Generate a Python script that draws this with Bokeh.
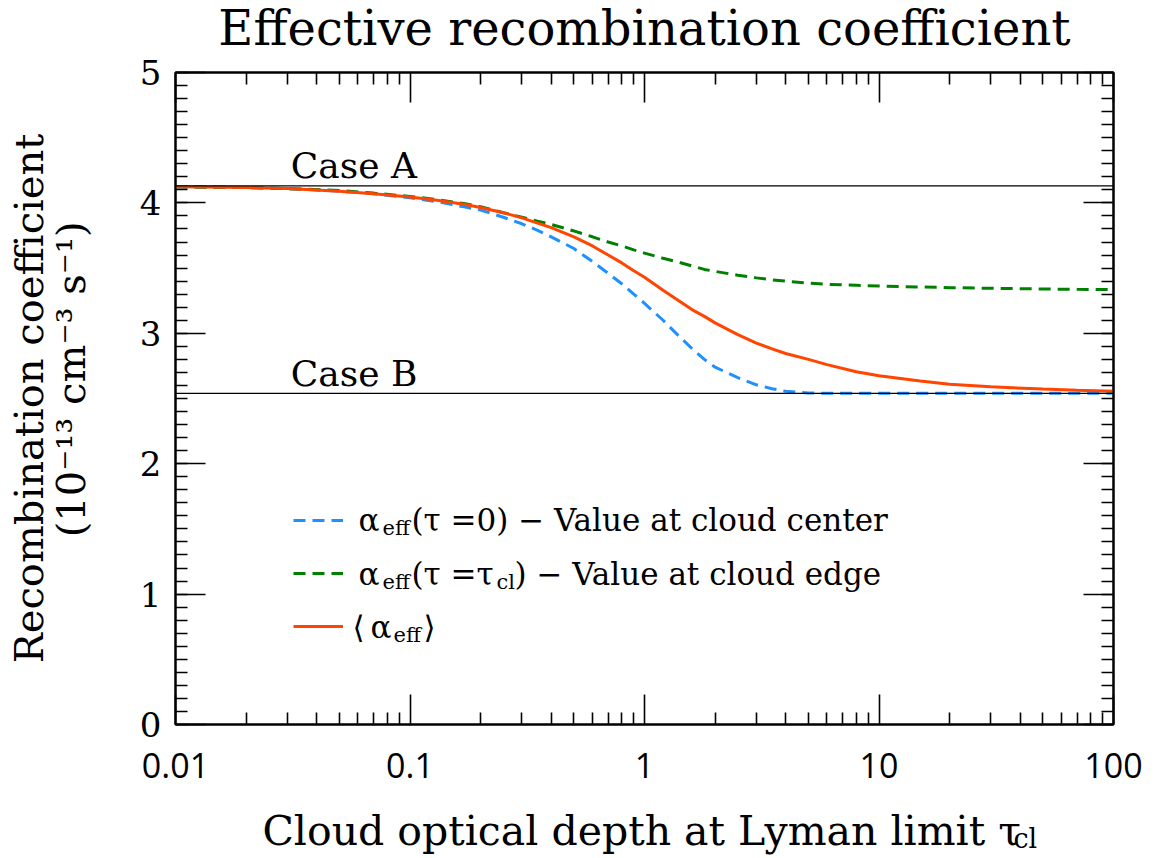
import math
from bokeh.plotting import figure
from bokeh.models import (Span, Label, Legend, LegendItem, LogAxis, LinearAxis,
                          FixedTicker, CustomJSTickFormatter, Range1d)
from bokeh.embed import file_html
from bokeh.resources import INLINE

# ---------------- data ----------------
tau = [0.01, 0.02, 0.03, 0.05, 0.07, 0.1, 0.13, 0.17, 0.2, 0.25, 0.3, 0.35, 0.4,
       0.5, 0.6, 0.7, 0.8, 0.9, 1.0, 1.2, 1.4, 1.6, 1.8, 2.0, 2.5, 3.0, 3.5, 4.0,
       5.0, 6.0, 8.0, 10, 15, 20, 30, 50, 70, 100]
alpha_center = [4.123, 4.118, 4.11, 4.09, 4.07, 4.04, 4.01, 3.97, 3.945, 3.89,
                3.84, 3.79, 3.74, 3.65, 3.55, 3.46, 3.38, 3.30, 3.23, 3.10, 2.98,
                2.88, 2.80, 2.74, 2.66, 2.605, 2.575, 2.555, 2.543, 2.54, 2.54,
                2.54, 2.54, 2.54, 2.54, 2.54, 2.54, 2.54]
alpha_edge = [4.123, 4.118, 4.11, 4.095, 4.075, 4.05, 4.025, 3.995, 3.97, 3.925,
              3.89, 3.86, 3.835, 3.785, 3.74, 3.70, 3.67, 3.64, 3.615, 3.575,
              3.545, 3.515, 3.49, 3.475, 3.445, 3.425, 3.41, 3.40, 3.385, 3.375,
              3.368, 3.362, 3.355, 3.35, 3.345, 3.34, 3.337, 3.335]
alpha_mean = [4.123, 4.118, 4.11, 4.09, 4.07, 4.045, 4.02, 3.99, 3.965, 3.925,
              3.885, 3.845, 3.81, 3.74, 3.67, 3.60, 3.54, 3.48, 3.43, 3.33, 3.25,
              3.18, 3.13, 3.08, 2.99, 2.925, 2.88, 2.845, 2.80, 2.76, 2.705, 2.675,
              2.635, 2.61, 2.59, 2.572, 2.563, 2.555]
case_a = 4.13
case_b = 2.54
x_major = [0.01, 0.1, 1, 10, 100]
y_major = [0, 1, 2, 3, 4, 5]

SERIF = "DejaVu Serif"
SANS = "Open Sans"
FS = "\u2007"
NB = "\u00a0"

W, H = 1160, 856
BL, BR, BT, BB = 175, 47, 72, 132
FW, FH = W - BL - BR, H - BT - BB

p = figure(width=W, height=H, x_axis_type="log", title=None,
           x_range=Range1d(0.01, 100), y_range=Range1d(0, 5),
           output_backend="svg", toolbar_location=None,
           min_border_left=BL, min_border_right=BR,
           min_border_top=BT, min_border_bottom=BB)
p.grid.visible = False
p.outline_line_color = "black"
p.outline_line_width = 2
p.background_fill_color = "white"
p.border_fill_color = "white"

x_minor = [m * d for d in [0.01, 0.1, 1, 10] for m in range(2, 10)]
y_minor = [i / 10 for i in range(0, 51)]
xt = FixedTicker(ticks=x_major, minor_ticks=x_minor)
yt = FixedTicker(ticks=y_major, minor_ticks=y_minor)


def style(ax, labels=True, sans=False):
    ax.axis_line_width = 2
    ax.major_tick_in = 30
    ax.major_tick_out = 0
    ax.minor_tick_in = 12
    ax.minor_tick_out = 0
    ax.major_tick_line_width = 1.6
    ax.minor_tick_line_width = 1.6
    ax.major_tick_line_color = "black"
    ax.minor_tick_line_color = "black"
    ax.axis_line_color = "black"
    ax.axis_label_text_font = SERIF
    ax.axis_label_text_font_style = "normal"
    ax.axis_label_text_color = "black"
    if labels:
        ax.major_label_text_font = SANS if sans else SERIF
        ax.major_label_text_color = "black"
    else:
        ax.major_label_text_font_size = "2px"
        ax.major_label_text_alpha = 0
        ax.major_label_standoff = 0


xa = p.xaxis[0]
xa.ticker = xt
xa.formatter = CustomJSTickFormatter(code="return tick.toString();")
style(xa, sans=True)
xa.major_label_text_font_size = "34px"
xa.major_label_standoff = 28

ya = p.yaxis[0]
ya.ticker = yt
style(ya)
ya.major_label_text_font_size = "34px"
ya.major_label_standoff = 14
ya.axis_label = FS + NB + "(10⁻¹³ cm⁻³ s⁻¹)"
ya.axis_label_text_font_size = "40px"
ya.axis_label_standoff = 43

ya2 = LinearAxis(ticker=FixedTicker(ticks=[]))
style(ya2, labels=False)
ya2.axis_line_color = None
ya2.axis_label = "Recombination coefficient"
ya2.axis_label_text_font_size = "40px"
ya2.axis_label_standoff = -7
p.add_layout(ya2, "left")

top = LogAxis(ticker=xt)
style(top, labels=False)
p.add_layout(top, "above")
right = LinearAxis(ticker=yt)
style(right, labels=False)
p.add_layout(right, "right")

# title: outermost panel above the frame
p.add_layout(Label(x=FW / 2, y=45, x_units="screen", y_units="screen",
                   text="Effective recombination coefficient", text_font=SERIF,
                   text_font_size="48px", text_color="black",
                   text_align="center", text_baseline="middle"), "above")
# x-axis label: outermost panel below the frame
p.add_layout(Label(x=87, y=-2, x_units="screen", y_units="screen",
                   text="Cloud optical depth at Lyman limit τ", text_font=SERIF,
                   text_font_size="41px", text_color="black",
                   text_baseline="middle"), "below")
# its subscript, held in the right-hand panel
p.add_layout(Label(x=-100, y=-114, x_units="screen", y_units="screen", text="cl",
                   text_font=SERIF, text_font_size="27px", text_color="black",
                   text_baseline="middle"), "right")

# case lines
p.add_layout(Span(location=case_a, dimension="width", line_color="black", line_width=1.3))
p.add_layout(Span(location=case_b, dimension="width", line_color="black", line_width=1.3))
for val, txt in [(case_a, "Case A"), (case_b, "Case B")]:
    p.add_layout(Label(x=0.031, y=val, y_offset=20, text=txt, text_font=SERIF,
                       text_font_size="36px", text_color="black",
                       text_baseline="middle"))

# curves
r_c = p.line(tau, alpha_center, line_color="#1E90FF", line_width=3, line_dash="12 7")
r_e = p.line(tau, alpha_edge, line_color="#008000", line_width=3, line_dash="12 7")
r_m = p.line(tau, alpha_mean, line_color="#FF4500", line_width=3)

legend = Legend(items=[LegendItem(label="-", renderers=[r_c]),
                       LegendItem(label="-", renderers=[r_e]),
                       LegendItem(label="-", renderers=[r_m])],
                location=(118, 88), orientation="vertical",
                glyph_width=50, glyph_height=20, label_height=20, label_width=5,
                label_text_font_size="10px", label_text_alpha=0,
                spacing=33, padding=0, margin=0,
                border_line_color=None, background_fill_alpha=0)
p.add_layout(legend, "center")


def lab(x, y, text, size="31px", yoff=0):
    p.add_layout(Label(x=x, y=y, x_units="screen", y_units="screen", y_offset=yoff,
                       text=text, text_font=SERIF, text_font_size=size,
                       text_color="black", text_baseline="middle"))


rows = [205, 151, 98]
# row 1
lab(183, rows[0], "α")
lab(207, rows[0], "eff", "21px", -8)
lab(236, rows[0], "(τ =0) − Value at cloud center")
# row 2
lab(183, rows[1], "α")
lab(207, rows[1], "eff", "21px", -8)
lab(236, rows[1], "(τ =τ")
lab(321, rows[1], "cl", "21px", -8)
lab(339, rows[1], ") − Value at cloud edge")
# row 3
lab(177, rows[2], "⟨")
lab(195, rows[2], "α")
lab(218, rows[2], "eff", "21px", -8)
lab(248, rows[2], "⟩")

open("out.html", "w").write(file_html(p, INLINE))
